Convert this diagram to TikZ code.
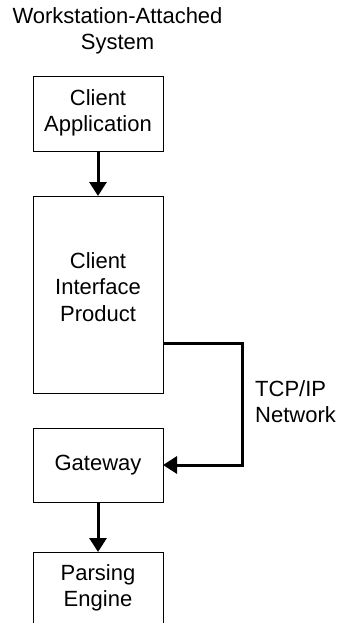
\documentclass[tikz,border=0pt]{standalone}
\usepackage{fontspec}
\setmainfont{Liberation Sans}
\usetikzlibrary{arrows.meta,calc}
\begin{document}
\begin{tikzpicture}[x=1pt,y=1pt,
  box/.style={draw=black,line width=1pt,minimum width=130pt,inner sep=0pt,outer sep=0pt},
  txt/.style={align=center,inner sep=0pt,font=\fontsize{22}{26.5}\selectfont},
  flow/.style={line width=3pt,-{Triangle[width=17pt,length=14pt]}}]
\useasboundingbox (0,0) rectangle (340,-623);
\node[txt] (title) at (117.5,-31) {Workstation-Attached\\System};
\node[box,minimum height=74pt] (ca) at (98,-114) {};
\node[txt] (catext) at (98,-113) {Client\\Application};
\node[box,minimum height=197pt] (cip) at (98,-294.5) {};
\node[txt] (ciptext) at (98,-287) {Client\\Interface\\Product};
\node[box,minimum height=74pt] (gw) at (98,-465) {};
\node[txt] (gwtext) at (98,-465) {Gateway};
\node[box,minimum height=100pt] (pe) at (98,-602) {};
\node[txt] (petext) at (98,-588) {Parsing\\Engine};
\node[txt,align=left,anchor=west] (net) at (255,-401.5) {TCP/IP\\Network};
\coordinate (c0) at ($(cip.south east)+(0,50)$);
\coordinate (c1) at (242,-343);
\coordinate (c2) at (242,-465);
\draw[flow] (ca.south) -- (cip.north);
\draw[flow] (gw.south) -- (pe.north);
\draw[flow] (c0) -- (c1) -- (c2) -- (gw.east);
\end{tikzpicture}
\end{document}
